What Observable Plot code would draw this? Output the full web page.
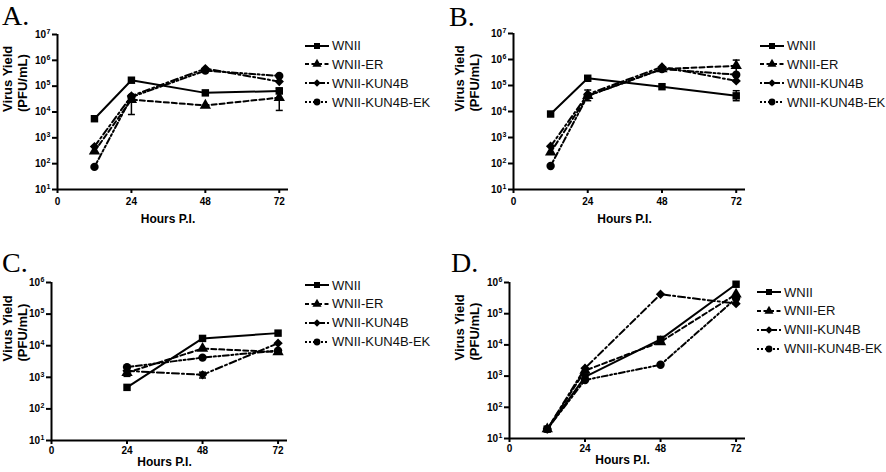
<!DOCTYPE html>
<html>
<head>
<meta charset="utf-8">
<script src="https://cdn.jsdelivr.net/npm/d3@7"></script>
<script src="https://cdn.jsdelivr.net/npm/@observablehq/plot@0.6"></script>
<style>
  html, body { margin: 0; padding: 0; background: #fff; }
  body { width: 886px; height: 472px; position: relative; overflow: hidden; font-family: "Liberation Sans", Arial, sans-serif; }
  .panel { position: absolute; }
  .letter { position: absolute; font-family: "Liberation Serif", "Times New Roman", serif; font-size: 28px; line-height: 28px; color: #000; }
  .legend { position: absolute; font-size: 13px; color: #111; }
  .legrow { position: absolute; left: 0; height: 16px; display: flex; align-items: center; white-space: nowrap; }
  .legrow svg { display: block; }
  .legrow span { margin-left: 3px; }
</style>
</head>
<body>
<script>
// ---------- data ----------
const series = ["WNII", "WNII-ER", "WNII-KUN4B", "WNII-KUN4B-EK"];
const xTicks = [0, 24, 48, 72];
const yTicks = [1e1, 1e2, 1e3, 1e4, 1e5, 1e6, 1e7];

// Panel A
const hoursA = [12, 24, 48, 72];
const wniiA = [5.5e3, 1.7e5, 5.5e4, 6.5e4];
const erA   = [3.0e2, 3.0e4, 1.8e4, 3.6e4];
const kunA  = [4.6e2, 4.2e4, 4.8e5, 1.5e5];
const ekA   = [75, 3.8e4, 4.0e5, 2.5e5];
const errHourA = [24, 72];
const errLoA = [8e3, 1.15e4];
const errHiA = [4.5e4, 8.5e4];

// Panel B
const hoursB = [12, 24, 48, 72];
const wniiB = [8.0e3, 1.9e5, 9.0e4, 4.0e4];
const erB   = [2.7e2, 4.0e4, 4.3e5, 5.7e5];
const kunB  = [4.6e2, 4.6e4, 5.2e5, 1.5e5];
const ekB   = [80, 4.0e4, 4.3e5, 2.6e5];
const errHourB = [24, 72, 72];
const errLoB = [2.6e4, 2.4e5, 2.6e4];
const errHiB = [6.7e4, 9.5e5, 6.3e4];

// Panel C
const hoursC = [24, 48, 72];
const wniiC = [4.8e2, 1.7e4, 2.5e4];
const erC   = [1.4e3, 8.1e3, 6.3e3];
const kunC  = [1.6e3, 1.2e3, 1.2e4];
const ekC   = [2.1e3, 4.2e3, 7.0e3];
const errHourC = [24, 48];
const errLoC = [1.07e3, 0.95e3];
const errHiC = [1.6e3, 1.45e3];

// Panel D
const hoursD = [12, 24, 48, 72];
const wniiD = [20, 9.5e2, 1.5e4, 8.8e5];
const erD   = [20, 1.5e3, 1.25e4, 4.2e5];
const kunD  = [20, 1.8e3, 4.2e5, 2.1e5];
const ekD   = [20, 7.5e2, 2.3e3, 3.1e5];
const errHourD = [];
const errLoD = [];
const errHiD = [];

// ---------- styles ----------
const symbols = ["square", "triangle", "diamond2", "circle"];
const dashes = ["none", "5,3", "7,3,2,3", "2,2.5,2,2.5,6,2.5"];
const cap = { draw(ctx) { ctx.moveTo(-3.5, 0); ctx.lineTo(3.5, 0); } };

const panels = [
  { letter: "A.", left: 0, top: 0, width: 300, height: 230, mL: 57, mR: 12, mT: 34, mB: 41, yMax: 1e7,
    hours: hoursA, vals: [wniiA, erA, kunA, ekA], eh: errHourA, el: errLoA, eu: errHiA,
    xPad: 4, xlabDy: 33, ylabDx: -43, letterPos: [2, 2], legend: [305, 45.5] },
  { letter: "B.", left: 440, top: 0, width: 310, height: 230, mL: 73, mR: 5, mT: 33, mB: 41, yMax: 1e7,
    hours: hoursB, vals: [wniiB, erB, kunB, ekB], eh: errHourB, el: errLoB, eu: errHiB,
    xPad: 4, xlabDy: 33, ylabDx: -47, letterPos: [449, 3], legend: [760, 45.5] },
  { letter: "C.", left: 0, top: 230, width: 300, height: 242, mL: 51, mR: 13, mT: 52, mB: 32, yMax: 1e6,
    hours: hoursC, vals: [wniiC, erC, kunC, ekC], eh: errHourC, el: errLoC, eu: errHiC,
    xPad: 2, xlabDy: 25, ylabDx: -37, letterPos: [2, 249], legend: [305, 285] },
  { letter: "D.", left: 440, top: 230, width: 310, height: 242, mL: 69, mR: 5, mT: 52, mB: 34, yMax: 1e6,
    hours: hoursD, vals: [wniiD, erD, kunD, ekD], eh: errHourD, el: errLoD, eu: errHiD,
    xPad: 2, xlabDy: 25, ylabDx: -43, letterPos: [451, 249], legend: [757, 292] }
];

function makePlot(cfg) {
  const rows = [];
  series.forEach((s, i) => cfg.hours.forEach((h, j) => rows.push({series: s, hour: h, value: cfg.vals[i][j]})));
  const errs = cfg.eh.map((h, k) => ({hour: h, lo: cfg.el[k], hi: cfg.eu[k]}));
  const ticks = yTicks.filter(t => t <= cfg.yMax);
  const svg = Plot.plot({
    width: cfg.width, height: cfg.height,
    marginLeft: cfg.mL, marginRight: cfg.mR, marginTop: cfg.mT, marginBottom: cfg.mB,
    style: {fontFamily: "'Liberation Sans', Arial, sans-serif", fontSize: "10px", background: "transparent", overflow: "visible"},
    x: {domain: [0, 75]},
    y: {type: "log", domain: [10, cfg.yMax]},
    symbol: {domain: series, range: symbols},
    marks: [
      Plot.ruleX(errs, {x: "hour", y1: "lo", y2: "hi", stroke: "black", strokeWidth: 1.5}),
      Plot.dot(errs, {x: "hour", y: "lo", symbol: cap, stroke: "black", fill: "none", strokeWidth: 1.5}),
      Plot.dot(errs, {x: "hour", y: "hi", symbol: cap, stroke: "black", fill: "none", strokeWidth: 1.5}),
      ...series.map((s, i) => Plot.line(rows.filter(d => d.series === s),
        {x: "hour", y: "value", stroke: "black", strokeWidth: 2, strokeDasharray: dashes[i]})),
      Plot.dot(rows, {x: "hour", y: "value", symbol: "series", fill: "black", stroke: "none", r: 4.2}),
      Plot.ruleX([0], {stroke: "black", strokeWidth: 2}),
      Plot.ruleY([10], {stroke: "black", strokeWidth: 2}),
      Plot.axisX({ticks: xTicks, tickSize: 4, tickPadding: cfg.xPad, strokeWidth: 2, fontSize: 10, fontWeight: "bold", label: null}),
      Plot.axisY({ticks: ticks, tickSize: 5, tickPadding: 2, strokeWidth: 2, fontSize: 10, fontWeight: "bold", label: null,
        tickFormat: d => "10|" + Math.round(Math.log10(d))}),
      Plot.text(["Hours P.I."], {text: d => d, frameAnchor: "bottom", dy: cfg.xlabDy, dx: -5, fontSize: 12, fontWeight: "bold"}),
      Plot.text(["Virus Yield\n(PFU/mL)"], {text: d => d, frameAnchor: "left", rotate: -90, dx: cfg.ylabDx, fontSize: 13, fontWeight: "bold", lineHeight: 1.15})
    ]
  });
  // render exponents as raised tspans
  svg.querySelectorAll("text").forEach(t => {
    const s = t.textContent;
    if (/^10\|\d$/.test(s)) {
      const e = s.split("|")[1];
      t.textContent = "10";
      const ts = document.createElementNS("http://www.w3.org/2000/svg", "tspan");
      ts.setAttribute("dy", "-4");
      ts.setAttribute("dx", "0.5");
      ts.setAttribute("font-size", "7");
      ts.textContent = e;
      t.appendChild(ts);
    }
  });
  return svg;
}

function makeLegend(cfg) {
  const div = document.createElement("div");
  div.className = "legend";
  div.style.left = cfg.legend[0] + "px";
  div.style.top = "0px";
  series.forEach((s, i) => {
    const row = document.createElement("div");
    row.className = "legrow";
    row.style.top = (cfg.legend[1] + i * 18.9 - 8) + "px";
    const svg = d3.create("svg").attr("width", 24).attr("height", 12);
    svg.append("line").attr("x1", 0).attr("x2", 24).attr("y1", 6).attr("y2", 6)
      .attr("stroke", "black").attr("stroke-width", 2).attr("stroke-dasharray", dashes[i] === "none" ? null : (i === 3 ? "2,2" : i === 2 ? "2,2,5,2" : "4,2.5"));
    const symMap = {square: d3.symbolSquare, triangle: d3.symbolTriangle, diamond2: d3.symbolDiamond2, circle: d3.symbolCircle};
    svg.append("path").attr("transform", "translate(12,6)")
      .attr("d", d3.symbol(symMap[symbols[i]], 3.4 * 3.4 * Math.PI)()).attr("fill", "black");
    row.appendChild(svg.node());
    const span = document.createElement("span");
    span.textContent = s;
    row.appendChild(span);
    div.appendChild(row);
  });
  return div;
}

panels.forEach(cfg => {
  const holder = document.createElement("div");
  holder.className = "panel";
  holder.style.left = cfg.left + "px";
  holder.style.top = cfg.top + "px";
  holder.appendChild(makePlot(cfg));
  document.body.appendChild(holder);
  const L = document.createElement("div");
  L.className = "letter";
  L.textContent = cfg.letter;
  L.style.left = cfg.letterPos[0] + "px";
  L.style.top = cfg.letterPos[1] + "px";
  document.body.appendChild(L);
  document.body.appendChild(makeLegend(cfg));
});
</script>
</body>
</html>
